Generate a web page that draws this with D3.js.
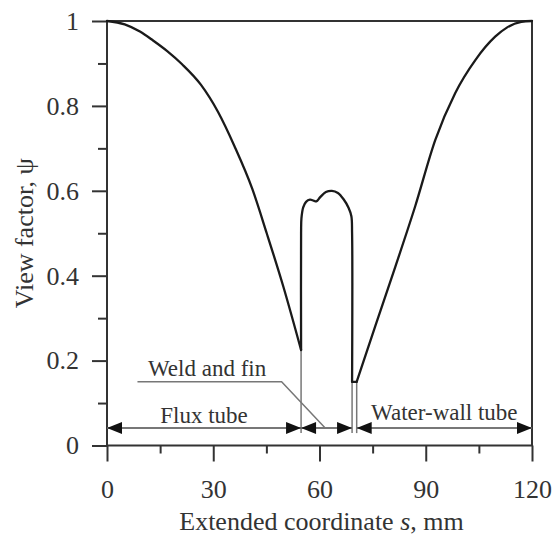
<!DOCTYPE html>
<html>
<head>
<meta charset="utf-8">
<script src="https://cdn.jsdelivr.net/npm/d3@7"></script>
<style>
  body { margin: 0; background: #fff; }
  svg { display: block; font-family: "Liberation Serif", "Times New Roman", serif; }
</style>
</head>
<body>
<svg id="chart" width="553" height="535"></svg>
<script>
'use strict'

/****** DATA ******/

// left branch of the curve (flux tube), s in mm
const leftS   = [0, 5, 9.3, 13, 17, 21.2, 26.5, 31.4, 36, 41, 45.1, 49.8, 54.8]
const leftPsi = [1, 0.992, 0.975, 0.954, 0.929, 0.898, 0.850, 0.785, 0.705, 0.605, 0.50, 0.374, 0.225]

// weld and fin hump (ends at the bottom of the right wall)
const humpS   = [54.8, 54.8, 54.9, 55.4, 56.2, 57.3, 58.3, 59.1, 60.2, 61.8, 63.5, 65.2, 66.8, 68.2, 69.0, 69.2, 69.2]
const humpPsi = [0.225, 0.50, 0.535, 0.561, 0.574, 0.579, 0.577, 0.575, 0.585, 0.597, 0.600, 0.595, 0.580, 0.560, 0.540, 0.50, 0.15]

// right branch (water-wall tube)
const rightS   = [70.5, 75.7, 81.4, 87, 92.7, 98.3, 104, 109.6, 113, 117, 120]
const rightPsi = [0.15, 0.28, 0.421, 0.563, 0.72, 0.83, 0.908, 0.963, 0.985, 0.998, 1]

// axis ticks
const xMajor = [0, 30, 60, 90, 120]
const xMinor = [15, 45, 75, 105]
const yMajor = [0, 0.2, 0.4, 0.6, 0.8, 1]
const yMinor = [0.1, 0.3, 0.5, 0.7, 0.9]

// dimension annotations
const dimPsi = 0.041
const spanStart = [0, 54.8, 70.5]
const spanEnd = [54.8, 69.2, 120]
const spanLabels = ['Flux tube', '', 'Water-wall tube']
const extS = [54.8, 69.2, 70.5]
const extTop = [0.225, 0.15, 0.15]
const leaderS = [8.6, 49.3, 61.6]
const leaderPsi = [0.15, 0.15, 0.041]

/****** CHART ******/

const svg = d3.select('#chart')

const x = d3.scaleLinear().domain([0, 120]).range([107, 532])
const y = d3.scaleLinear().domain([0, 1]).range([445.5, 21])

const axisColor = '#333'
const annColor = '#777'

// minor ticks first
svg.append('g')
  .attr('transform', `translate(0,${y(0)})`)
  .call(d3.axisBottom(x).tickValues(xMinor).tickSize(8).tickFormat(''))
svg.append('g')
  .attr('transform', `translate(${x(0)},0)`)
  .call(d3.axisLeft(y).tickValues(yMinor).tickSize(9).tickFormat(''))

svg.append('g')
  .attr('transform', `translate(0,${y(0)})`)
  .call(d3.axisBottom(x).tickValues(xMajor).tickSize(16).tickPadding(18))

svg.append('g')
  .attr('transform', `translate(${x(0)},0)`)
  .call(d3.axisLeft(y).tickValues(yMajor).tickSize(15).tickPadding(13).tickFormat(d3.format('~g')))

svg.selectAll('.domain').remove()
svg.selectAll('.tick line').attr('stroke', axisColor).attr('stroke-width', 2)
svg.selectAll('.tick text')
  .attr('fill', '#333')
  .style('font-family', '"Liberation Serif", serif')
  .style('font-size', '26px')

// frame
svg.append('rect')
  .attr('x', x(0))
  .attr('y', y(1))
  .attr('width', x(120) - x(0))
  .attr('height', y(0) - y(1))
  .attr('fill', 'none')
  .attr('stroke', axisColor)
  .attr('stroke-width', 2)

// axis titles
const xt = svg.append('text')
  .attr('x', (x(0) + x(120)) / 2 + 2)
  .attr('y', 530)
  .attr('text-anchor', 'middle')
  .attr('fill', '#333')
  .style('font-size', '26px')
xt.append('tspan').text('Extended coordinate ')
xt.append('tspan').style('font-style', 'italic').text('s')
xt.append('tspan').text(', mm')

svg.append('text')
  .attr('transform', `translate(33,${(y(0) + y(1)) / 2}) rotate(-90)`)
  .attr('text-anchor', 'middle')
  .attr('fill', '#333')
  .style('font-size', '26px')
  .text('View factor, ψ')

// dimension lines
const dims = d3.range(spanStart.length)
svg.append('g').selectAll('line')
  .data(extS)
  .join('line')
    .attr('x1', d => x(d))
    .attr('x2', d => x(d))
    .attr('y1', (d, i) => y(extTop[i]))
    .attr('y2', y(dimPsi) + 5)
    .attr('stroke', annColor)
    .attr('stroke-width', 1.5)

svg.append('g').selectAll('line')
  .data(dims)
  .join('line')
    .attr('x1', i => x(spanStart[i]))
    .attr('x2', i => x(spanEnd[i]))
    .attr('y1', y(dimPsi))
    .attr('y2', y(dimPsi))
    .attr('stroke', annColor)
    .attr('stroke-width', 2)

// arrowheads: tips at both span ends, pointing outward
const headLen = 15, headHalf = 6
const heads = []
dims.forEach(i => {
  heads.push({ tip: x(spanStart[i]), dir: -1 })
  heads.push({ tip: x(spanEnd[i]), dir: 1 })
})
svg.append('g').selectAll('path')
  .data(heads)
  .join('path')
    .attr('d', h => {
      const yy = y(dimPsi)
      const b = h.tip - h.dir * headLen
      return `M${h.tip},${yy}L${b},${yy - headHalf}L${b},${yy + headHalf}Z`
    })
    .attr('fill', '#111')

svg.append('g').selectAll('text')
  .data(dims.filter(i => spanLabels[i]))
  .join('text')
    .attr('x', i => (x(spanStart[i]) + x(spanEnd[i])) / 2)
    .attr('y', i => i === 0 ? 423 : 420)
    .attr('text-anchor', 'middle')
    .attr('fill', '#333')
    .style('font-size', '23px')
    .text(i => spanLabels[i])

// weld and fin leader
svg.append('path')
  .datum(leaderS.map((s, i) => [s, leaderPsi[i]]))
  .attr('d', d3.line().x(d => x(d[0])).y(d => y(d[1])))
  .attr('fill', 'none')
  .attr('stroke', annColor)
  .attr('stroke-width', 1.5)

svg.append('text')
  .attr('x', 148)
  .attr('y', 376)
  .attr('fill', '#333')
  .style('font-size', '23px')
  .text('Weld and fin')

// the curve: smooth branches, hump, and the short flat step between hump and right branch
const leftPts = leftS.map((s, i) => [s, leftPsi[i]])
const humpPts = humpS.map((s, i) => [s, humpPsi[i]])
const rightPts = rightS.map((s, i) => [s, rightPsi[i]])

const px = d => x(d[0]), py = d => y(d[1])
const pieces = [
  { pts: leftPts, gen: d3.line().x(px).y(py).curve(d3.curveMonotoneX) },
  { pts: humpPts, gen: d3.line().x(px).y(py).curve(d3.curveCatmullRom.alpha(0.5)) },
  { pts: [humpPts[humpPts.length - 1], rightPts[0]], gen: d3.line().x(px).y(py) },
  { pts: rightPts, gen: d3.line().x(px).y(py).curve(d3.curveMonotoneX) }
]
svg.append('g').selectAll('path')
  .data(pieces)
  .join('path')
    .attr('d', p => p.gen(p.pts))
    .attr('fill', 'none')
    .attr('stroke', '#1a1a1a')
    .attr('stroke-width', 2.3)
    .attr('stroke-linecap', 'round')
    .attr('stroke-linejoin', 'round')
</script>
</body>
</html>
